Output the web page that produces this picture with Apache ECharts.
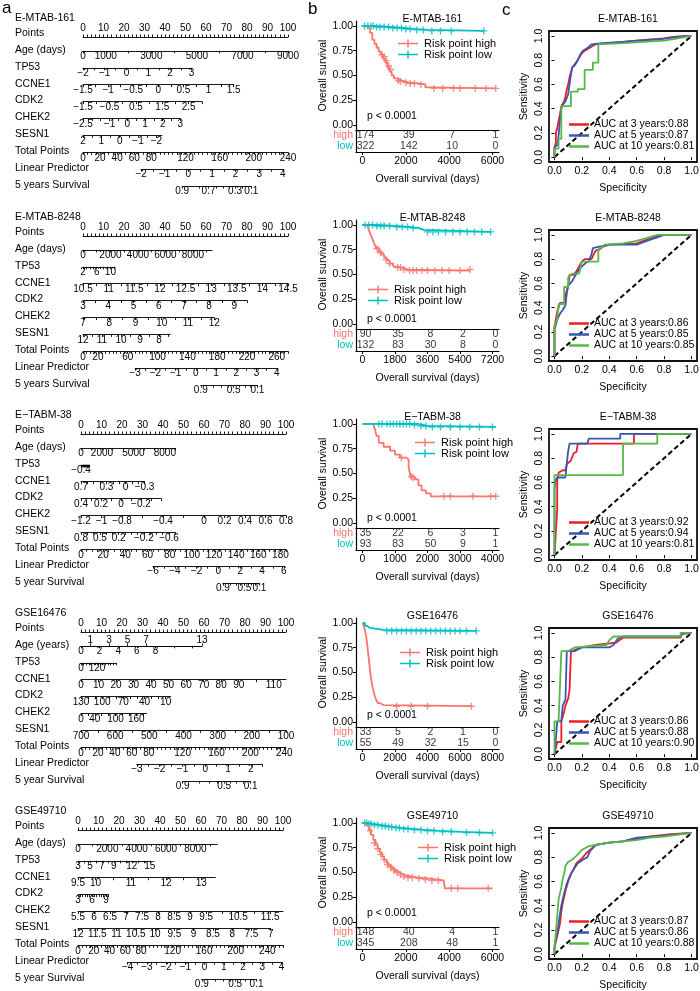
<!DOCTYPE html>
<html>
<head>
<meta charset="utf-8">
<script src="https://cdn.jsdelivr.net/npm/echarts@6/dist/echarts.min.js"></script>
<style>html,body{margin:0;padding:0;background:#fff}#box{width:700px;height:991px}</style>
</head>
<body>
<div id="box"></div>
<script>
// ---------- a: nomograms ----------
// each variable: [name, value at left end, value at right end, points at left end, points at right end, tick labels, tick step, (labels above)]
var nomoTitles = ['E-MTAB-161', 'E-MTAB-8248', 'E\u2212TABM-38', 'GSE16476', 'GSE49710']
var pointLabels = [0, 10, 20, 30, 40, 50, 60, 70, 80, 90, 100]

var nomo1Vars = [
    ['Age (days)', 0, 9000, 0, 100, [0, 1000, 3000, 5000, 7000, 9000], 1000],
    ['TP53', -2, 3, 0, 53, [-2, -1, 0, 1, 2, 3], 0.5],
    ['CCNE1', -1.5, 1.5, 0, 73.5, [-1.5, -1, -0.5, 0, 0.5, 1, 1.5], 0.25],
    ['CDK2', -1.5, 3, 0, 58, [-1.5, -0.5, 0.5, 1.5, 2.5], 0.5],
    ['CHEK2', -2.5, 3, 0, 47.5, [-2.5, -1, 0, 1, 2, 3], 0.5],
    ['SESN1', 2, -2.3, 0, 38.5, [2, 1, 0, -1, -2], 0.5]
]
var nomo1Total = [240, [0, 20, 40, 60, 80, 120, 160, 200, 240], 5]
var nomo1Lp = [-2, 4, 68, 234, [-2, -1, 0, 1, 2, 3, 4], 0.5]
var nomo1Surv = [[0.9, 116], [0.8, 136], [0.7, 147], [0.6, 156], [0.5, 164], [0.4, 171], [0.3, 178], [0.2, 187], [0.1, 197]]
var nomo1SurvLabels = [0.9, 0.7, 0.3, 0.1]

var nomo2Vars = [
    ['Age (days)', 0, 9400, 0, 63, [0, 2000, 4000, 6000, 8000], 1000],
    ['TP53', 2, 11.4, 0, 15.7, [2, 6, 10], 1],
    ['CCNE1', 10.5, 14.5, 0, 100, [10.5, 11, 11.5, 12, 12.5, 13, 13.5, 14, 14.5], 0.25],
    ['CDK2', 3, 9.5, 0, 80, [3, 4, 5, 6, 7, 8, 9], 0.5],
    ['CHEK2', 7, 12, 0, 64, [7, 8, 9, 10, 11, 12], 0.5],
    ['SESN1', 12, 7.4, 0, 42.6, [12, 11, 10, 9, 8], 0.5]
]
var nomo2Total = [275, [0, 20, 60, 100, 140, 180, 220, 260], 5]
var nomo2Lp = [-3, 4, 70, 260, [-3, -2, -1, 0, 1, 2, 3, 4], 0.5]
var nomo2Surv = [[0.9, 158], [0.8, 175], [0.7, 186], [0.6, 195], [0.5, 202], [0.4, 209], [0.3, 217], [0.2, 225], [0.1, 234]]
var nomo2SurvLabels = [0.9, 0.5, 0.1]

var nomo3Vars = [
    ['Age (days)', 0, 9000, 0, 46, [0, 2000, 5000, 8000], 1000],
    ['TP53', -0.4, -0.33, 0, 4, [-0.4], 0.005],
    ['CCNE1', 0.7, -0.3, 0, 31, [0.7, 0.3, 0, -0.3], 0.1],
    ['CDK2', 0.4, -0.4, 0, 39, [0.4, 0.2, 0, -0.2], 0.1],
    ['CHEK2', -1.2, 0.8, 0, 100, [-1.2, -1, -0.8, -0.4, 0, 0.2, 0.4, 0.6, 0.8], 0.2],
    ['SESN1', 0.8, -0.7, 0, 46, [0.8, 0.5, 0.2, -0.2, -0.6], 0.1]
]
var nomo3Total = [185, [0, 20, 40, 60, 80, 100, 120, 140, 160, 180], 5]
var nomo3Lp = [-6, 6, 65, 183, [-6, -4, -2, 0, 2, 4, 6], 1]
var nomo3Surv = [[0.9, 128], [0.8, 135], [0.7, 140], [0.6, 144], [0.5, 147.5], [0.4, 151], [0.3, 154], [0.2, 157], [0.1, 161]]
var nomo3SurvLabels = [0.9, 0.5, 0.1]

var nomo4Vars = [
    ['Age (years)', 0, 13, 0, 59, [0, 2, 4, 6, 8], 2, [1, 3, 5, 7, 13]],
    ['TP53', 0, 260, 0, 17, [0, 120], 20],
    ['CCNE1', 0, 117, 0, 100, [0, 10, 20, 30, 40, 50, 60, 70, 80, 90, 110], 10],
    ['CDK2', 130, 3, 0, 43.7, [130, 100, 70, 40, 10], 10],
    ['CHEK2', 0, 190, 0, 32, [0, 40, 100, 160], 20],
    ['SESN1', 700, 100, 0, 100, [700, 600, 500, 400, 300, 200, 100], 50]
]
var nomo4Total = [242, [0, 20, 40, 60, 80, 120, 160, 200, 240], 5]
var nomo4Lp = [-3, 2.5, 66, 214, [-3, -2, -1, 0, 1, 2], 0.5]
var nomo4Surv = [[0.9, 120], [0.8, 139.5], [0.7, 151.7], [0.6, 161], [0.5, 169], [0.4, 176.3], [0.3, 183.4], [0.2, 191], [0.1, 200.3]]
var nomo4SurvLabels = [0.9, 0.5, 0.1]

var nomo5Vars = [
    ['Age (days)', 0, 9500, 0, 68, [0, 2000, 4000, 6000, 8000], 1000],
    ['TP53', 3, 15, 0, 35, [3, 5, 7, 9, 12, 15], 1],
    ['CCNE1', 9.5, 13.4, 0, 67, [9.5, 10, 11, 12, 13], 0.5],
    ['CDK2', 3, 9.5, 0, 14.8, [3, 6, 9], 0.5],
    ['CHEK2', 5.5, 11.9, 0, 100, [5.5, 6, 6.5, 7, 7.5, 8, 8.5, 9, 9.5, 10.5, 11.5], 0.5],
    ['SESN1', 12, 7, 0, 94, [12, 11.5, 11, 10.5, 10, 9.5, 9, 8.5, 8, 7.5, 7], 0.5]
]
var nomo5Total = [260, [0, 20, 40, 60, 80, 120, 160, 200, 240], 5]
var nomo5Lp = [-4, 4, 63, 258, [-4, -3, -2, -1, 0, 1, 2, 3, 4], 0.5]
var nomo5Surv = [[0.9, 157], [0.8, 174], [0.7, 184.4], [0.6, 192.5], [0.5, 199.4], [0.4, 205.7], [0.3, 211.9], [0.2, 218.4], [0.1, 226.4]]
var nomo5SurvLabels = [0.9, 0.5, 0.1]

var survNames = ['5 years Survival', '5 years Survival', '5 year Survival', '5 year Survival', '5 year Survival']

// ---------- b: Kaplan-Meier ----------
var kmSurvTicks = [0, 0.25, 0.5, 0.75, 1]

var km1Times = [0, 2000, 4000, 6000]
var km1RiskHigh = [174, 39, 7, 1]
var km1RiskLow = [322, 142, 10, 0]
var km1High = [[0, 1], [150, 0.99], [250, 0.97], [350, 0.93], [450, 0.86], [550, 0.82], [650, 0.78], [750, 0.74], [850, 0.71], [950, 0.67], [1050, 0.63], [1150, 0.58], [1250, 0.54], [1350, 0.5], [1450, 0.47], [1600, 0.45], [1800, 0.43], [2100, 0.42], [2600, 0.41], [2900, 0.38], [3100, 0.37], [6150, 0.37]]
var km1Low = [[0, 1], [600, 0.99], [1300, 0.98], [1900, 0.97], [2400, 0.96], [3000, 0.95], [5600, 0.95]]
var km1HighCens = [[900, 0.71], [1000, 0.69], [1100, 0.65], [1200, 0.6], [1300, 0.56], [1650, 0.45], [1750, 0.44], [2000, 0.43], [2200, 0.42], [2400, 0.42], [2700, 0.41], [3300, 0.37], [3700, 0.37], [4200, 0.37], [4500, 0.37], [5200, 0.37], [5700, 0.37], [6150, 0.37]]
var km1LowCens = [[100, 1], [250, 1], [400, 1], [500, 1], [650, 0.99], [800, 0.99], [1000, 0.99], [1200, 0.99], [1400, 0.98], [1600, 0.98], [1800, 0.98], [2000, 0.97], [2200, 0.97], [2500, 0.96], [2800, 0.96], [3200, 0.95], [3600, 0.95], [4100, 0.95], [5600, 0.95]]

var km2Times = [0, 1800, 3600, 5400, 7200]
var km2RiskHigh = [90, 35, 8, 2, 0]
var km2RiskLow = [132, 83, 30, 8, 0]
var km2High = [[0, 1], [250, 0.98], [350, 0.95], [450, 0.9], [550, 0.86], [650, 0.81], [750, 0.77], [900, 0.73], [1050, 0.7], [1200, 0.67], [1350, 0.64], [1500, 0.61], [1700, 0.58], [1900, 0.57], [2200, 0.55], [2500, 0.54], [5950, 0.54]]
var km2Low = [[0, 1], [800, 0.99], [1800, 0.98], [2600, 0.97], [3100, 0.95], [3400, 0.93], [7100, 0.93]]
var km2HighCens = [[800, 0.76], [1000, 0.72], [1300, 0.65], [1500, 0.61], [1950, 0.57], [2100, 0.57], [2300, 0.55], [2600, 0.54], [2800, 0.54], [3000, 0.54], [3300, 0.54], [3600, 0.54], [4000, 0.54], [4400, 0.54], [4800, 0.54], [5400, 0.54], [5950, 0.55]]
var km2LowCens = [[150, 1], [350, 1], [550, 1], [800, 0.99], [1000, 0.99], [1200, 0.99], [1500, 0.99], [1900, 0.98], [2200, 0.98], [2500, 0.98], [2800, 0.97], [3600, 0.93], [3900, 0.93], [4200, 0.93], [4600, 0.93], [5000, 0.93], [5400, 0.93], [5800, 0.93], [6200, 0.93], [6600, 0.93], [7100, 0.93]]

var km3Times = [0, 1000, 2000, 3000, 4000]
var km3RiskHigh = [35, 22, 6, 3, 1]
var km3RiskLow = [93, 83, 50, 9, 1]
var km3High = [[0, 1], [330, 1], [380, 0.95], [430, 0.88], [500, 0.81], [650, 0.77], [850, 0.73], [1000, 0.69], [1150, 0.66], [1350, 0.64], [1420, 0.56], [1480, 0.47], [1600, 0.44], [1720, 0.38], [1820, 0.33], [1950, 0.3], [2100, 0.27], [4100, 0.27]]
var km3Low = [[0, 1], [1500, 1], [1700, 0.98], [2000, 0.97], [4100, 0.97]]
var km3HighCens = [[1200, 0.66], [1500, 0.47], [1550, 0.46], [2500, 0.27], [2700, 0.27], [3400, 0.27], [3950, 0.27], [4100, 0.27]]
var km3LowCens = [[500, 1], [600, 1], [750, 1], [850, 1], [950, 1], [1050, 1], [1150, 1], [1250, 1], [1350, 1], [1450, 1], [1600, 0.99], [1800, 0.98], [1950, 0.98], [2150, 0.97], [2400, 0.97], [2700, 0.97], [3000, 0.97], [3300, 0.97], [3600, 0.97], [4000, 0.97]]

var km4Times = [0, 2000, 4000, 6000, 8000]
var km4RiskHigh = [33, 5, 2, 1, 0]
var km4RiskLow = [55, 49, 32, 15, 0]
var km4High = [[0, 1], [80, 0.97], [150, 0.93], [220, 0.87], [280, 0.8], [330, 0.72], [380, 0.65], [430, 0.57], [480, 0.5], [540, 0.43], [600, 0.37], [680, 0.31], [760, 0.26], [850, 0.22], [950, 0.19], [1100, 0.17], [1300, 0.16], [6700, 0.16]]
var km4Low = [[0, 1], [150, 0.97], [300, 0.95], [450, 0.93], [1300, 0.92], [7000, 0.92]]
var km4HighCens = [[2100, 0.16], [3000, 0.16], [4000, 0.16], [6700, 0.16]]
var km4LowCens = [[1500, 0.92], [1800, 0.92], [2100, 0.92], [2400, 0.92], [2700, 0.92], [3000, 0.92], [3300, 0.92], [3600, 0.92], [3900, 0.92], [4200, 0.92], [4500, 0.92], [4800, 0.92], [5100, 0.92], [5400, 0.92], [5700, 0.92], [6000, 0.92], [6400, 0.92], [7000, 0.92]]

var km5Times = [0, 2000, 4000, 6000]
var km5RiskHigh = [148, 40, 4, 1]
var km5RiskLow = [345, 208, 48, 1]
var km5High = [[0, 1], [100, 0.98], [200, 0.96], [300, 0.93], [400, 0.88], [500, 0.83], [600, 0.78], [700, 0.74], [800, 0.7], [900, 0.66], [1000, 0.63], [1100, 0.6], [1200, 0.57], [1350, 0.54], [1500, 0.51], [1650, 0.49], [1800, 0.47], [2000, 0.45], [2500, 0.44], [3000, 0.42], [3750, 0.42], [3800, 0.34], [6000, 0.34]]
var km5Low = [[0, 1], [250, 0.99], [500, 0.98], [800, 0.97], [1100, 0.96], [1400, 0.95], [1800, 0.94], [2300, 0.93], [2900, 0.92], [3600, 0.91], [4600, 0.9], [6000, 0.9]]
var km5HighCens = [[350, 0.92], [550, 0.8], [700, 0.74], [850, 0.68], [1000, 0.63], [1150, 0.58], [1300, 0.55], [1450, 0.52], [1600, 0.5], [1750, 0.48], [1900, 0.46], [2100, 0.45], [2300, 0.45], [2600, 0.44], [2900, 0.43], [3200, 0.42], [3500, 0.42], [4100, 0.34], [4400, 0.34], [5800, 0.34]]
var km5LowCens = [[100, 1], [200, 1], [300, 0.99], [400, 0.99], [550, 0.98], [700, 0.98], [900, 0.97], [1050, 0.97], [1200, 0.96], [1350, 0.96], [1550, 0.95], [1700, 0.95], [1900, 0.94], [2100, 0.94], [2400, 0.93], [2700, 0.93], [3000, 0.92], [3300, 0.92], [3700, 0.91], [4100, 0.91], [4800, 0.9], [5400, 0.9], [6000, 0.9]]

// ---------- c: time-dependent ROC ----------
var rocTicks = [0, 0.2, 0.4, 0.6, 0.8, 1]
var rocDiagonal = [[0, 0], [1, 1]]

var roc1Names = ['AUC at 3 years:0.88', 'AUC at 5 years:0.87', 'AUC at 10 years:0.81']
var roc1Auc3 = [[0, 0], [0, 0.08], [0.01, 0.12], [0.01, 0.2], [0.02, 0.24], [0.03, 0.3], [0.04, 0.35], [0.05, 0.42], [0.07, 0.46], [0.08, 0.5], [0.09, 0.56], [0.1, 0.6], [0.11, 0.66], [0.12, 0.7], [0.13, 0.74], [0.15, 0.77], [0.17, 0.8], [0.19, 0.84], [0.21, 0.87], [0.24, 0.89], [0.27, 0.91], [0.3, 0.93], [0.4, 0.94], [0.5, 0.95], [0.6, 0.96], [0.7, 0.97], [0.8, 0.98], [0.85, 0.99], [0.95, 1], [1, 1]]
var roc1Auc5 = [[0, 0], [0, 0.08], [0.02, 0.1], [0.03, 0.18], [0.04, 0.3], [0.05, 0.4], [0.06, 0.43], [0.08, 0.46], [0.1, 0.52], [0.11, 0.6], [0.12, 0.68], [0.13, 0.74], [0.15, 0.76], [0.17, 0.8], [0.19, 0.85], [0.21, 0.88], [0.24, 0.9], [0.27, 0.93], [0.35, 0.94], [0.5, 0.95], [0.6, 0.96], [0.75, 0.97], [0.9, 0.99], [1, 1]]
var roc1Auc10 = [[0, 0], [0, 0.07], [0.03, 0.07], [0.03, 0.15], [0.05, 0.15], [0.05, 0.42], [0.12, 0.42], [0.12, 0.54], [0.17, 0.54], [0.17, 0.56], [0.22, 0.56], [0.22, 0.72], [0.28, 0.72], [0.28, 0.78], [0.32, 0.78], [0.32, 0.93], [0.5, 0.94], [0.65, 0.95], [0.8, 0.96], [0.9, 0.98], [1, 1]]

var roc2Names = ['AUC at 3 years:0.86', 'AUC at 5 years:0.85', 'AUC at 10 years:0.85']
var roc2Auc3 = [[0, 0], [0, 0.25], [0.01, 0.3], [0.02, 0.37], [0.03, 0.4], [0.04, 0.44], [0.08, 0.44], [0.08, 0.5], [0.1, 0.58], [0.11, 0.67], [0.14, 0.67], [0.16, 0.7], [0.2, 0.78], [0.22, 0.8], [0.27, 0.8], [0.3, 0.87], [0.33, 0.88], [0.35, 0.9], [0.4, 0.92], [0.6, 0.93], [0.65, 0.95], [0.7, 0.97], [0.75, 0.99], [0.8, 1], [1, 1]]
var roc2Auc5 = [[0, 0], [0, 0.22], [0.02, 0.3], [0.04, 0.35], [0.06, 0.38], [0.08, 0.42], [0.09, 0.52], [0.1, 0.58], [0.13, 0.62], [0.15, 0.66], [0.18, 0.72], [0.2, 0.74], [0.23, 0.77], [0.25, 0.78], [0.27, 0.84], [0.28, 0.89], [0.32, 0.9], [0.4, 0.92], [0.6, 0.92], [0.65, 0.94], [0.7, 0.96], [0.75, 0.98], [0.8, 1], [1, 1]]
var roc2Auc10 = [[0, 0], [0, 0.25], [0.02, 0.3], [0.03, 0.43], [0.07, 0.43], [0.07, 0.57], [0.1, 0.57], [0.1, 0.65], [0.13, 0.68], [0.18, 0.68], [0.2, 0.78], [0.32, 0.78], [0.32, 0.88], [0.37, 0.92], [0.5, 0.93], [0.6, 0.95], [0.75, 1], [1, 1]]

var roc3Names = ['AUC at 3 years:0.92', 'AUC at 5 years:0.94', 'AUC at 10 years:0.81']
var roc3Auc3 = [[0, 0], [0.02, 0.38], [0.02, 0.62], [0.03, 0.68], [0.06, 0.7], [0.08, 0.7], [0.09, 0.75], [0.12, 0.78], [0.14, 0.84], [0.16, 0.85], [0.17, 0.92], [0.58, 0.92], [0.58, 1], [1, 1]]
var roc3Auc5 = [[0, 0], [0, 0.55], [0.01, 0.62], [0.02, 0.64], [0.08, 0.64], [0.09, 0.76], [0.1, 0.86], [0.11, 0.92], [0.24, 0.92], [0.25, 0.96], [0.48, 0.96], [0.48, 1], [1, 1]]
var roc3Auc10 = [[0, 0], [0, 0.66], [0.5, 0.66], [0.5, 0.92], [0.75, 0.92], [0.75, 1], [1, 1]]

var roc4Names = ['AUC at 3 years:0.86', 'AUC at 5 years:0.88', 'AUC at 10 years:0.90']
var roc4Auc3 = [[0, 0], [0.02, 0.1], [0.05, 0.1], [0.05, 0.27], [0.07, 0.35], [0.08, 0.4], [0.1, 0.46], [0.11, 0.53], [0.12, 0.84], [0.15, 0.86], [0.2, 0.88], [0.3, 0.9], [0.45, 0.92], [0.5, 0.96], [0.92, 0.96], [0.93, 0.99], [1, 1]]
var roc4Auc5 = [[0, 0], [0.01, 0.12], [0.02, 0.27], [0.05, 0.27], [0.06, 0.4], [0.08, 0.45], [0.09, 0.85], [0.15, 0.85], [0.2, 0.88], [0.4, 0.88], [0.43, 0.9], [0.46, 0.95], [0.5, 0.97], [0.92, 0.97], [0.93, 1], [1, 1]]
var roc4Auc10 = [[0, 0], [0, 0.27], [0.03, 0.27], [0.05, 0.85], [0.1, 0.85], [0.15, 0.88], [0.38, 0.9], [0.4, 0.94], [0.43, 0.97], [0.92, 0.97], [0.92, 1], [1, 1]]

var roc5Names = ['AUC at 3 years:0.87', 'AUC at 5 years:0.86', 'AUC at 10 years:0.88']
var roc5Auc3 = [[0, 0], [0, 0.05], [0.02, 0.15], [0.03, 0.2], [0.04, 0.25], [0.05, 0.35], [0.06, 0.42], [0.07, 0.47], [0.08, 0.52], [0.1, 0.6], [0.12, 0.66], [0.14, 0.7], [0.16, 0.75], [0.2, 0.79], [0.23, 0.83], [0.27, 0.87], [0.3, 0.9], [0.4, 0.92], [0.5, 0.93], [0.6, 0.95], [0.7, 0.97], [0.85, 0.99], [1, 1]]
var roc5Auc5 = [[0, 0], [0, 0.07], [0.02, 0.17], [0.03, 0.25], [0.04, 0.33], [0.05, 0.4], [0.07, 0.5], [0.09, 0.58], [0.11, 0.64], [0.14, 0.7], [0.17, 0.75], [0.21, 0.78], [0.24, 0.8], [0.26, 0.85], [0.3, 0.9], [0.4, 0.92], [0.5, 0.93], [0.6, 0.96], [0.75, 0.97], [0.9, 0.99], [1, 1]]
var roc5Auc10 = [[0, 0], [0, 0.05], [0.01, 0.18], [0.02, 0.32], [0.03, 0.45], [0.04, 0.5], [0.05, 0.55], [0.06, 0.62], [0.07, 0.66], [0.08, 0.73], [0.1, 0.76], [0.13, 0.78], [0.16, 0.81], [0.2, 0.86], [0.25, 0.89], [0.3, 0.9], [0.4, 0.92], [0.5, 0.93], [0.6, 0.94], [0.7, 0.96], [0.8, 0.97], [1, 1]]

// ---------- layout ----------
var FONT = '"Liberation Sans", Arial, Helvetica, sans-serif'
var RED = '#F8766D', TEAL = '#00BFC4'
var ROC_COL = ['#EE1C25', '#3A55B4', '#55B848']
var CROSS = 'path://M4,0H6V4H10V6H6V10H4V6H0V4H4Z'
var LINE_CROSS = 'path://M0,4.3H20V5.7H0Z M9.3,1H10.7V9H9.3Z'

var nomoTop = [0, 199, 397, 595, 793]
var nomoX0 = [83, 83, 81, 81, 78]
var nomoW = 205
var plotTop = [0, 199, 398, 597, 797]
var kmLeft = 356, kmWidth = 143
var kmLegendLeft = [398, 368, 415, 400, 418]
var kmLegendTop = [38, 85, 39, 50, 45]
var kmPTop = [116, 120, 120, 118, 116]
var rocLeft = 549, rocWidth = 148

var chart = echarts.init(document.getElementById('box'))
var option = {
    animation: false,
    textStyle: {fontFamily: FONT},
    title: [], legend: [], grid: [], xAxis: [], yAxis: [], series: [], graphic: []
}

function addGrid(left, top, width, height, extra) {
    var g = {left: left, top: top, width: width, height: height, containLabel: false, outerBoundsMode: 'none'}
    if (extra) for (var k in extra) g[k] = extra[k]
    option.grid.push(g)
    return option.grid.length - 1
}
function addText(x, y, s, size, align, color) {
    option.graphic.push({type: 'text', x: x, y: y, silent: true,
        style: {text: s, fontSize: size, fontFamily: FONT, fill: color || '#000', textAlign: align || 'left', textVerticalAlign: 'middle'}})
}
function fmt(v) {
    var s = String(Math.round(v * 10000) / 10000)
    return s.charAt(0) === '-' ? '\u2212' + s.slice(1) : s
}
function ticksBetween(a, b, step) {
    var lo = Math.min(a, b), hi = Math.max(a, b), out = []
    var n = Math.ceil(lo / step - 1e-6)
    while (n * step <= hi + 1e-9) { out.push(Math.round(n * step * 1e6) / 1e6); n++ }
    return out
}
function nomoXAxis(gi, from, to, labels, ticks, pos, margin, formatter) {
    option.xAxis.push({
        gridIndex: gi, type: 'value', position: pos,
        min: Math.min(from, to), max: Math.max(from, to), inverse: from > to,
        axisLine: {show: true, onZero: false, lineStyle: {color: '#000', width: 0.9}},
        axisTick: {show: true, length: 2.5, customValues: ticks, lineStyle: {color: '#000', width: 0.9}},
        axisLabel: {show: true, customValues: labels, margin: margin, fontSize: 10, color: '#000',
            formatter: formatter || fmt, hideOverlap: false, showMinLabel: true, showMaxLabel: true},
        splitLine: {show: false}
    })
}
function nomoRow(left, right, y, from, to, labels, ticks, pos, formatter) {
    var gi = addGrid(left, y, right - left, 0)
    option.yAxis.push({gridIndex: gi, type: 'value', show: false})
    nomoXAxis(gi, from, to, labels, ticks, pos || 'bottom', pos === 'top' ? 4 : 0.5, formatter)
    return gi
}

function drawNomo(k, vars, total, lp, surv, survLabels) {
    var R = nomoTop[k], x0 = nomoX0[k]
    var ptPx = nomoW / 100, totPx = nomoW / total[0]
    var ly = function (i) { return R + 33 + 16.9 * i }
    addText(15, R + 18, nomoTitles[k], 10.5)
    addText(15, ly(0), 'Points', 10.5)
    nomoRow(x0, x0 + nomoW, ly(0) + 4, 0, 100, pointLabels, ticksBetween(0, 100, 2), 'top')
    vars.forEach(function (v, i) {
        var y = ly(i + 1) + 1
        addText(15, ly(i + 1), v[0], 10.5)
        var gi = nomoRow(x0 + v[3] * ptPx, x0 + v[4] * ptPx, y, v[1], v[2], v[5], ticksBetween(v[1], v[2], v[6]))
        if (v[7]) nomoXAxis(gi, v[1], v[2], v[7], v[7], 'top', 0.5)
    })
    addText(15, ly(7), 'Total Points', 10.5)
    nomoRow(x0, x0 + nomoW, ly(7) + 1, 0, total[0], total[1], ticksBetween(0, total[0], total[2]))
    addText(15, ly(8), 'Linear Predictor', 10.5)
    nomoRow(x0 + lp[2] * totPx, x0 + lp[3] * totPx, ly(8) + 1, lp[0], lp[1], lp[4], ticksBetween(lp[0], lp[1], lp[5]))
    addText(15, ly(9), survNames[k], 10.5)
    var pos = surv.map(function (p) { return p[1] })
    var labPos = survLabels.map(function (s) {
        return surv.filter(function (p) { return p[0] === s })[0][1]
    })
    nomoRow(x0 + pos[0] * totPx, x0 + pos[pos.length - 1] * totPx, ly(9) + 1, pos[0], pos[pos.length - 1], labPos, pos, 'bottom',
        function (v) {
            var hit = surv.filter(function (p) { return Math.abs(p[1] - v) < 0.01 })[0]
            return hit ? String(hit[0]) : ''
        })
}

function drawKM(k, high, low, highCens, lowCens, times, riskHigh, riskLow) {
    var R = plotTop[k], xmax = times[times.length - 1]
    var axisLine = {show: true, onZero: false, lineStyle: {color: '#000', width: 1.2}}
    option.title.push({text: nomoTitles[k], left: kmLeft + kmWidth / 2, top: R + 9, textAlign: 'center',
        textStyle: {fontSize: 10.5, fontWeight: 'normal', color: '#000', fontFamily: FONT}})
    var g = addGrid(kmLeft, R + 21, kmWidth, 109)
    option.xAxis.push({gridIndex: g, type: 'value', min: -0.05 * xmax, max: 1.05 * xmax, axisLine: axisLine,
        axisTick: {show: false}, axisLabel: {show: false}, splitLine: {show: false}})
    option.yAxis.push({gridIndex: g, type: 'value', min: -0.05, max: 1.05, axisLine: axisLine,
        axisTick: {show: true, length: 3, customValues: kmSurvTicks, lineStyle: {color: '#000'}},
        axisLabel: {customValues: kmSurvTicks, formatter: function (v) { return v.toFixed(2) }, fontSize: 10.5, margin: 3, color: '#000'},
        splitLine: {show: false},
        name: 'Overall survival', nameLocation: 'middle', nameGap: 27, nameTextStyle: {fontSize: 10.5, color: '#000'}})
    var xi = option.xAxis.length - 1, yi = option.yAxis.length - 1
    option.series.push(
        {type: 'line', name: 'Risk point high', step: 'end', data: high, xAxisIndex: xi, yAxisIndex: yi, showSymbol: false,
            color: RED, itemStyle: {color: RED}, lineStyle: {color: RED, width: 1.8}},
        {type: 'line', name: 'Risk point low', step: 'end', data: low, xAxisIndex: xi, yAxisIndex: yi, showSymbol: false,
            color: TEAL, itemStyle: {color: TEAL}, lineStyle: {color: TEAL, width: 1.8}},
        {type: 'scatter', name: 'censor high', data: highCens, xAxisIndex: xi, yAxisIndex: yi,
            symbol: CROSS, symbolSize: 7, itemStyle: {color: RED}},
        {type: 'scatter', name: 'censor low', data: lowCens, xAxisIndex: xi, yAxisIndex: yi,
            symbol: CROSS, symbolSize: 7, itemStyle: {color: TEAL}}
    )
    addText(kmLeft + 11, R + kmPTop[k], 'p < 0.0001', 10.5)
    option.legend.push({data: ['Risk point high', 'Risk point low'], left: kmLegendLeft[k], top: R + kmLegendTop[k],
        orient: 'vertical', itemGap: 0, itemWidth: 20, itemHeight: 10, icon: LINE_CROSS, padding: 0, selectedMode: false,
        textStyle: {fontSize: 11, color: '#000', fontFamily: FONT, padding: [0, 0, 0, 1]}})

    // number at risk table
    var t = addGrid(kmLeft, R + 130, kmWidth, 22)
    option.xAxis.push({gridIndex: t, type: 'value', min: -0.05 * xmax, max: 1.05 * xmax, axisLine: axisLine,
        axisTick: {show: true, length: 3, customValues: times, lineStyle: {color: '#000'}},
        axisLabel: {customValues: times, fontSize: 10.5, margin: 4, color: '#000', formatter: function (v) { return String(v) }},
        splitLine: {show: false},
        name: 'Overall survival (days)', nameLocation: 'middle', nameGap: 22, nameTextStyle: {fontSize: 10.5, color: '#000'}})
    option.yAxis.push({gridIndex: t, type: 'category', data: ['low', 'high'], axisLine: axisLine, axisTick: {show: false},
        axisLabel: {interval: 0, margin: 3, formatter: function (v) { return '{' + v + '|' + v + '}' },
            rich: {high: {color: RED, fontSize: 10.5}, low: {color: TEAL, fontSize: 10.5}}}, splitLine: {show: false}})
    var tx = option.xAxis.length - 1, ty = option.yAxis.length - 1
    var rows = []
    times.forEach(function (tm, i) {
        rows.push([tm, 'high', riskHigh[i]])
        rows.push([tm, 'low', riskLow[i]])
    })
    option.series.push({type: 'scatter', name: 'risk table', data: rows, xAxisIndex: tx, yAxisIndex: ty, symbolSize: 1,
        itemStyle: {color: 'rgba(0,0,0,0)'}, silent: true,
        label: {show: true, position: 'inside', offset: [3, 0], color: '#000', fontSize: 10.5, fontFamily: FONT,
            formatter: function (p) { return String(p.value[2]) }}})
}

function drawROC(k, curves, names) {
    var R = plotTop[k]
    option.title.push({text: nomoTitles[k], left: rocLeft + rocWidth / 2, top: R + 9, textAlign: 'center',
        textStyle: {fontSize: 10.5, fontWeight: 'normal', color: '#000', fontFamily: FONT}})
    var g = addGrid(rocLeft, R + 31, rocWidth, 131, {show: true, borderColor: '#111', borderWidth: 1.8, backgroundColor: 'rgba(0,0,0,0)'})
    var axisCommon = function (name, gap, rotate) {
        return {gridIndex: g, type: 'value', min: -0.04, max: 1.04, axisLine: {show: false},
            axisTick: {show: true, length: 3, customValues: rocTicks, lineStyle: {color: '#000'}},
            axisLabel: {customValues: rocTicks, rotate: rotate, margin: 4, fontSize: 10.5, color: '#000',
                formatter: function (v) { return v.toFixed(1) }},
            splitLine: {show: false},
            name: name, nameLocation: 'middle', nameGap: gap, nameTextStyle: {fontSize: 10.5, color: '#000'}}
    }
    option.xAxis.push(axisCommon('Specificity', 21, 0))
    option.yAxis.push(axisCommon('Sensitivity', 19, 90))
    var xi = option.xAxis.length - 1, yi = option.yAxis.length - 1
    option.series.push({type: 'line', name: 'diagonal', data: rocDiagonal, xAxisIndex: xi, yAxisIndex: yi, showSymbol: false,
        lineStyle: {color: '#000', width: 2, type: [5, 3]}})
    curves.forEach(function (c, i) {
        option.series.push({type: 'line', name: names[i], data: c, xAxisIndex: xi, yAxisIndex: yi, showSymbol: false,
            color: ROC_COL[i], itemStyle: {color: ROC_COL[i]}, lineStyle: {color: ROC_COL[i], width: 1.8}})
    })
    option.legend.push({data: names, left: rocLeft + 20, top: R + 119, orient: 'vertical', itemGap: 0, itemWidth: 20, itemHeight: 2.5,
        icon: 'rect', padding: 0, selectedMode: false,
        textStyle: {fontSize: 10.5, lineHeight: 9, color: '#000', fontFamily: FONT}})
}

drawNomo(0, nomo1Vars, nomo1Total, nomo1Lp, nomo1Surv, nomo1SurvLabels)
drawNomo(1, nomo2Vars, nomo2Total, nomo2Lp, nomo2Surv, nomo2SurvLabels)
drawNomo(2, nomo3Vars, nomo3Total, nomo3Lp, nomo3Surv, nomo3SurvLabels)
drawNomo(3, nomo4Vars, nomo4Total, nomo4Lp, nomo4Surv, nomo4SurvLabels)
drawNomo(4, nomo5Vars, nomo5Total, nomo5Lp, nomo5Surv, nomo5SurvLabels)

drawKM(0, km1High, km1Low, km1HighCens, km1LowCens, km1Times, km1RiskHigh, km1RiskLow)
drawKM(1, km2High, km2Low, km2HighCens, km2LowCens, km2Times, km2RiskHigh, km2RiskLow)
drawKM(2, km3High, km3Low, km3HighCens, km3LowCens, km3Times, km3RiskHigh, km3RiskLow)
drawKM(3, km4High, km4Low, km4HighCens, km4LowCens, km4Times, km4RiskHigh, km4RiskLow)
drawKM(4, km5High, km5Low, km5HighCens, km5LowCens, km5Times, km5RiskHigh, km5RiskLow)

drawROC(0, [roc1Auc3, roc1Auc5, roc1Auc10], roc1Names)
drawROC(1, [roc2Auc3, roc2Auc5, roc2Auc10], roc2Names)
drawROC(2, [roc3Auc3, roc3Auc5, roc3Auc10], roc3Names)
drawROC(3, [roc4Auc3, roc4Auc5, roc4Auc10], roc4Names)
drawROC(4, [roc5Auc3, roc5Auc5, roc5Auc10], roc5Names)

addText(2, 8, 'a', 17)
addText(308, 9, 'b', 17)
addText(502, 10, 'c', 17)

chart.setOption(option)
</script>
</body>
</html>
